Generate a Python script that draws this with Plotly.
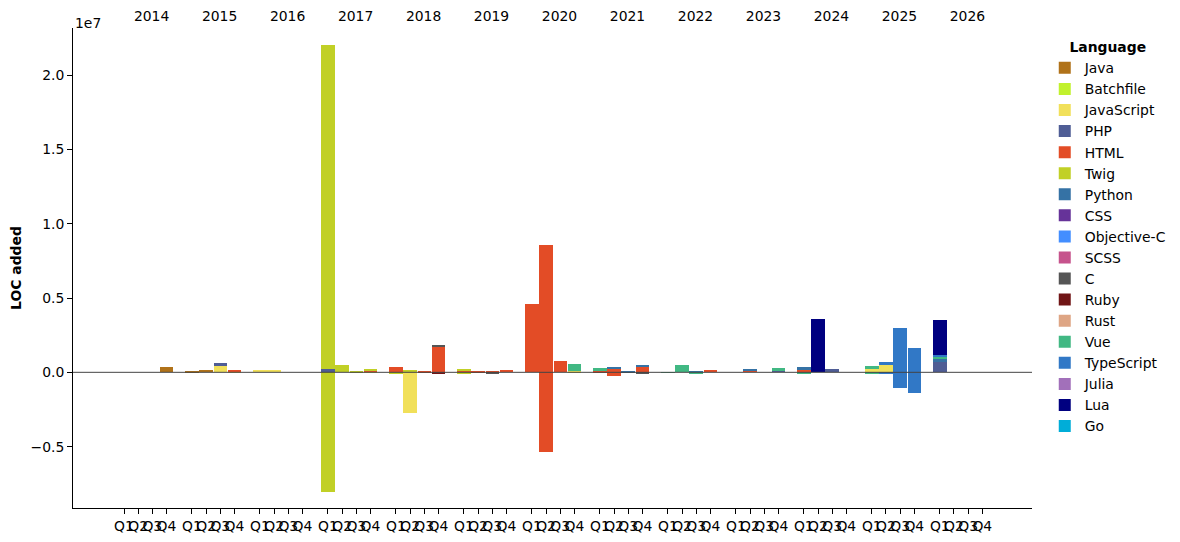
import plotly.graph_objects as go

# ---------------- data ----------------
YEARS = [2014, 2015, 2016, 2017, 2018, 2019, 2020, 2021, 2022, 2023, 2024, 2025, 2026]
QUARTERS = ["Q1", "Q2", "Q3", "Q4"]

LANGUAGES = ["Java", "Batchfile", "JavaScript", "PHP", "HTML", "Twig", "Python", "CSS",
             "Objective-C", "SCSS", "C", "Ruby", "Rust", "Vue", "TypeScript", "Julia", "Lua", "Go"]
COLORS = ["#b07219", "#c1f12e", "#f1e05a", "#4f5d95", "#e34c26", "#c1d026", "#3572a5", "#663399",
          "#438eff", "#c6538c", "#555555", "#701516", "#dea584", "#41b883", "#3178c6", "#a270ba",
          "#000080", "#00add8"]

# lines added per quarter (positive) and removed (negative), keyed "YYYYQn"
ADDED = {
    "Java": {"2014Q4": 3.3e5, "2015Q1": 8e4, "2015Q2": 1.6e5},
    "JavaScript": {"2015Q3": 4.3e5, "2015Q4": 8e4, "2016Q1": 1.9e5, "2016Q2": 1.5e5, "2017Q4": 5e4,
                   "2018Q2": 5e4, "2020Q4": 8e4, "2025Q1": 2.2e5, "2025Q2": 4.9e5},
    "PHP": {"2015Q3": 2e5, "2017Q1": 2.2e5, "2018Q4": 5e4, "2020Q2": 5e4, "2023Q4": 1.5e5,
            "2024Q3": 2.2e5, "2026Q1": 7.4e5},
    "HTML": {"2015Q4": 8e4, "2017Q4": 8e4, "2018Q1": 3.6e5, "2018Q3": 9e4, "2018Q4": 1.7e6,
             "2019Q1": 1.5e5, "2019Q2": 8e4, "2019Q3": 7e4, "2019Q4": 1.5e5, "2020Q1": 4.62e6,
             "2020Q2": 8.5e6, "2020Q3": 7.4e5, "2021Q1": 8e4, "2021Q2": 2.9e5, "2021Q4": 3.6e5,
             "2022Q4": 1.5e5, "2023Q2": 1.5e5, "2024Q1": 2.2e5},
    "Twig": {"2017Q1": 2.18e7, "2017Q2": 4.9e5, "2017Q3": 7e4, "2017Q4": 5e4, "2018Q2": 1.2e5,
             "2019Q1": 6e4},
    "Python": {"2021Q2": 5e4, "2021Q3": 6e4, "2021Q4": 7e4, "2022Q3": 8e4, "2023Q2": 7e4,
               "2024Q1": 1.3e5, "2026Q1": 1.3e5},
    "C": {"2018Q4": 7e4},
    "Vue": {"2020Q4": 4.7e5, "2021Q1": 2e5, "2022Q2": 4.8e5, "2023Q4": 1.3e5, "2025Q1": 2e5,
            "2025Q4": 5e4, "2026Q1": 2e5},
    "TypeScript": {"2025Q2": 2e5, "2025Q3": 2.96e6, "2025Q4": 1.57e6, "2026Q1": 7e4},
    "Lua": {"2024Q2": 3.57e6, "2026Q1": 2.36e6},
}
REMOVED = {
    "JavaScript": {"2018Q2": -2.76e6},
    "HTML": {"2020Q2": -5.36e6, "2021Q2": -2.5e5},
    "Twig": {"2017Q1": -8.07e6, "2018Q1": -9e4, "2019Q1": -8e4},
    "C": {"2019Q3": -5e4, "2021Q4": -5e4},
    "Ruby": {"2018Q4": -6e4},
    "Vue": {"2022Q1": -4e4, "2022Q3": -5e4, "2024Q1": -9e4, "2025Q1": -9e4},
    "TypeScript": {"2025Q2": -9e4, "2025Q3": -1.08e6, "2025Q4": -1.41e6},
}

Y_TICKS = [-5e6, 0, 5e6, 1e7, 1.5e7, 2e7]
Y_TICK_TEXT = ["\u22120.5", "0.0", "0.5", "1.0", "1.5", "2.0"]

# ---------------- layout helpers ----------------
YEAR_STEP = 4.8  # spacing between year groups, in quarter units


def pos(key):
    yi = YEARS.index(int(key[:4]))
    qi = int(key[5]) - 1
    return yi * YEAR_STEP + qi


FONT = "DejaVu Sans"
fig = go.Figure()

for lang, color in zip(LANGUAGES, COLORS):
    add = ADDED.get(lang, {})
    rem = REMOVED.get(lang, {})
    ax = [pos(k) for k in add] or [0]
    ay = list(add.values()) or [0]
    fig.add_trace(go.Bar(
        x=ax, y=ay, name=lang,
        marker=dict(color=color, line=dict(width=0)), width=0.95,
        legendgroup=lang, showlegend=True,
    ))
    if rem:
        fig.add_trace(go.Bar(
            x=[pos(k) for k in rem], y=list(rem.values()), name=lang,
            marker=dict(color=color, line=dict(width=0)), width=0.95,
            legendgroup=lang, showlegend=False,
        ))

q_vals = [yi * YEAR_STEP + qi for yi in range(len(YEARS)) for qi in range(4)]
q_text = [q for _ in YEARS for q in QUARTERS]
year_vals = [yi * YEAR_STEP + 1.95 for yi in range(len(YEARS))]

# invisible trace to activate top axis
fig.add_trace(go.Scatter(x=[year_vals[0]], y=[0], xaxis="x2", mode="markers",
                         marker=dict(opacity=0), showlegend=False, hoverinfo="skip"))

xr = [-3.601, 64.11]
# the page body adds an 8px offset, so the figure is 8px smaller than the window
fig.update_layout(
    width=1172, height=534,
    margin=dict(l=65, r=148, t=20, b=34, autoexpand=False),
    paper_bgcolor="white", plot_bgcolor="white",
    barmode="relative", bargap=0,
    font=dict(family=FONT, size=13.9, color="black"),
    xaxis=dict(range=xr, tickmode="array", tickvals=q_vals, ticktext=q_text, tickangle=0,
               ticks="outside", ticklen=5, tickwidth=0.8, tickcolor="black", automargin=False,
               showline=True, linecolor="black", linewidth=0.8, showgrid=False, zeroline=False,
               tickfont=dict(size=13.9)),
    xaxis2=dict(range=xr, overlaying="x", side="top", tickmode="array", tickvals=year_vals,
                ticktext=[str(y) for y in YEARS], tickangle=0, ticks="", showline=False,
                ticklabelstandoff=3,
                automargin=False, showgrid=False, zeroline=False, tickfont=dict(size=13.9)),
    yaxis=dict(range=[-0.913e7, 2.317e7], tickmode="array", tickvals=Y_TICKS, ticktext=Y_TICK_TEXT,
               ticks="outside", ticklen=5, tickwidth=0.8, tickcolor="black", automargin=False,
               showline=True, linecolor="black", linewidth=0.8, showgrid=False, zeroline=False,
               title=dict(text="<b>LOC added</b>", standoff=6, font=dict(size=13.9))),
    legend=dict(x=1.0133, y=0.987, xanchor="left", yanchor="top", traceorder="grouped",
                tracegroupgap=0, font=dict(size=13.9), borderwidth=0,
                title=dict(text="<b>Language</b>", side="top center", font=dict(size=13.9))),
    shapes=[dict(type="line", xref="paper", yref="y", x0=0, x1=1, y0=0, y1=0,
                 line=dict(color="#444444", width=1), layer="above")],
    annotations=[dict(text="1e7", xref="paper", yref="paper", x=0, y=1, xanchor="left",
                      yanchor="bottom", showarrow=False, font=dict(size=13.9), yshift=-5)],
)

fig.write_html("out.html")
